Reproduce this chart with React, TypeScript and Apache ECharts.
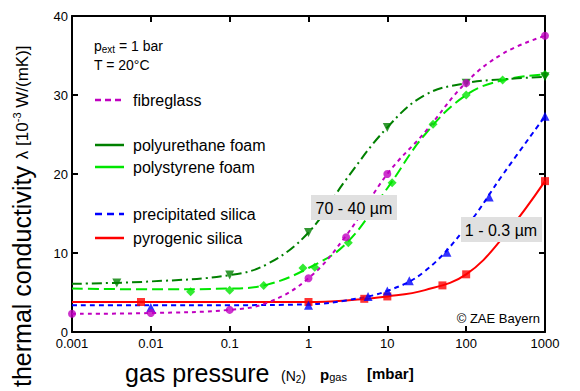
import React, { useEffect, useRef } from 'react';
import * as echarts from 'echarts';

const FONT = 'Liberation Sans, Arial, Helvetica, sans-serif';

const xTickValues = [0.001, 0.01, 0.1, 1, 10, 100, 1000];
const yTickValues = [0, 10, 20, 30, 40];

// fibreglass
const fibreglassCurve = [[0.001, 2.3], [0.01, 2.4], [0.1, 2.8], [0.3, 3.7], [1, 6.8], [3, 12.2], [10, 20], [30, 25.3], [100, 31.6], [300, 35.3], [1000, 37.5]];
const fibreglassPoints = [[0.001, 2.3], [0.01, 2.4], [0.1, 2.8], [1, 6.8], [3, 12], [10, 20], [100, 31.5], [1000, 37.5]];

// polyurethane foam
const puCurve = [[0.001, 6.1], [0.01, 6.4], [0.1, 7.2], [0.3, 8.6], [1, 12.6], [3, 19.3], [10, 25.9], [30, 30], [100, 31.5], [300, 32], [1000, 32.3]];
const puPoints = [[0.0037, 6.2], [0.1, 7.2], [1, 12.6], [10, 25.9], [100, 31.5], [1000, 32.3]];

// polystyrene foam
const psCurve = [[0.001, 5.5], [0.01, 5.4], [0.1, 5.5], [0.3, 6.0], [1, 8.1], [3, 11.2], [10, 18.2], [30, 25], [100, 30], [300, 31.9], [1000, 32.6]];
const psPoints = [[0.032, 5.1], [0.1, 5.3], [0.27, 5.9], [0.85, 8.1], [1.2, 8.2], [3.2, 11.3], [11.5, 18.9], [38, 26.3], [100, 30], [290, 31.9], [1000, 32.6]];

// precipitated silica
const precCurve = [[0.001, 3.4], [0.01, 3.4], [0.1, 3.4], [1, 3.5], [3, 4.0], [10, 5.2], [30, 7.7], [100, 13.3], [300, 20.1], [1000, 27.3]];
const precPoints = [[0.01, 3.1], [1, 3.4], [5.7, 4.5], [10, 5.2], [19, 6.5], [57, 10.1], [196, 17.1], [1000, 27.3]];

// pyrogenic silica
const pyroCurve = [[0.001, 3.8], [0.01, 3.8], [0.1, 3.8], [1, 3.8], [3, 4.0], [10, 4.5], [30, 5.3], [100, 7.3], [300, 12.1], [1000, 19.1]];
const pyroPoints = [[0.0075, 3.8], [1, 3.8], [5.1, 4.2], [10, 4.5], [50, 5.9], [100, 7.3], [1000, 19.1]];

const legendNames = ['fibreglass', 'polyurethane foam', 'polystyrene foam', 'precipitated silica', 'pyrogenic silica'];
const colors = ['#c000c0', '#008000', '#00e600', '#0000ff', '#ff0000'];

function fmtLog(v: number) {
  const e = Math.round(Math.log10(v));
  return e < 0 ? Math.pow(10, e).toFixed(-e) : String(Math.round(Math.pow(10, e)));
}

export default function App() {
  const ref = useRef<HTMLDivElement>(null);
  useEffect(() => {
    if (!ref.current) return;
    const chart = echarts.init(ref.current, undefined, { renderer: 'svg' });

    const lineSeries = (data: number[][], color: string, dash: any, z = 2) => ({
      type: 'line',
      data,
      smooth: 0.4,
      showSymbol: false,
      symbol: 'none',
      lineStyle: { color, width: 2, type: dash },
      z,
      silent: true,
    });
    const pointSeries = (data: number[][], color: string, symbol: string, size: number, rotate = 0) => ({
      type: 'scatter',
      data,
      symbol,
      symbolSize: size,
      symbolRotate: rotate,
      itemStyle: { color },
      z: 3,
      silent: true,
    });

    const legendY = [100, 145, 167, 214, 238];
    const legendDash: any[] = [[6, 4], null, null, [7, 5], null];
    const graphics: any[] = [];
    legendNames.forEach((n, i) => {
      graphics.push({
        type: 'line',
        shape: { x1: 95, y1: legendY[i], x2: 124, y2: legendY[i] },
        style: { stroke: colors[i], lineWidth: 2.5, lineDash: legendDash[i] || undefined },
        z: 100,
      });
      graphics.push({
        type: 'text',
        x: 133, y: legendY[i],
        style: { text: n, fill: '#000', font: `16px ${FONT}`, verticalAlign: 'middle', align: 'left' },
        z: 100,
      });
    });

    graphics.push(
      {
        type: 'text', x: 94, y: 46, z: 100,
        style: {
          text: '{a|p}{b|ext}{a| = 1 bar}', verticalAlign: 'middle', align: 'left', fill: '#000',
          rich: {
            a: { fontSize: 14, fontFamily: FONT, fill: '#000' },
            b: { fontSize: 10, fontFamily: FONT, fill: '#000', padding: [6, 0, 0, 0] },
          },
        },
      },
      {
        type: 'text', x: 94, y: 65, z: 100,
        style: { text: 'T = 20°C', font: `14px ${FONT}`, fill: '#000', verticalAlign: 'middle', align: 'left' },
      },
      { type: 'rect', shape: { x: 311, y: 195, width: 86, height: 25 }, style: { fill: '#e0e0e0' }, z: 100 },
      {
        type: 'text', x: 354, y: 208, z: 101,
        style: { text: '70 - 40 µm', font: `16px ${FONT}`, fill: '#000', align: 'center', verticalAlign: 'middle' },
      },
      { type: 'rect', shape: { x: 461, y: 217, width: 81, height: 25 }, style: { fill: '#e0e0e0' }, z: 100 },
      {
        type: 'text', x: 501, y: 230, z: 101,
        style: { text: '1 - 0.3 µm', font: `16px ${FONT}`, fill: '#000', align: 'center', verticalAlign: 'middle' },
      },
      {
        type: 'text', x: 540, y: 318, z: 100,
        style: { text: '© ZAE Bayern', font: `13px ${FONT}`, fill: '#000', align: 'right', verticalAlign: 'middle' },
      },
      // x-axis title
      {
        type: 'text', x: 125, y: 373, z: 100,
        style: { text: 'gas pressure', font: `25px ${FONT}`, fill: '#000', align: 'left', verticalAlign: 'middle' },
      },
      {
        type: 'text', x: 281, y: 376, z: 100,
        style: {
          text: '{c|(N}{d|2}{c|)}', align: 'left', verticalAlign: 'middle', fill: '#000',
          rich: {
            c: { fontSize: 14, fontFamily: FONT, fill: '#000' },
            d: { fontSize: 10, fontFamily: FONT, fill: '#000', padding: [6, 0, 0, 0] },
          },
        },
      },
      {
        type: 'text', x: 320, y: 374, z: 100,
        style: {
          text: '{p|p}{q|gas}', align: 'left', verticalAlign: 'middle', fill: '#000',
          rich: {
            p: { fontSize: 15, fontWeight: 'bold', fontFamily: FONT, fill: '#000' },
            q: { fontSize: 11, fontFamily: FONT, fill: '#000', padding: [6, 0, 0, 0] },
          },
        },
      },
      {
        type: 'text', x: 367, y: 373, z: 100,
        style: { text: '[mbar]', font: `bold 15px ${FONT}`, fill: '#000', align: 'left', verticalAlign: 'middle' },
      },
      // y-axis title
      {
        type: 'text', x: 22, y: 387, rotation: Math.PI / 2, z: 100,
        style: {
          text: '{a|thermal conductivity }{b|λ [10}{s|-3}{b| W/(mK)]}', align: 'left', verticalAlign: 'middle', fill: '#000',
          rich: {
            a: { fontSize: 25, fontFamily: FONT, fill: '#000' },
            b: { fontSize: 17, fontFamily: FONT, fill: '#000' },
            s: { fontSize: 11, fontFamily: FONT, fill: '#000', padding: [0, 0, 10, 0] },
          },
        },
      },
    );

    const axisLineStyle = { color: '#000', width: 2 };
    const xBase = {
      type: 'log', logBase: 10, min: 0.001, max: 1000, splitNumber: 6,
      axisLine: { show: true, lineStyle: axisLineStyle, onZero: false },
      axisTick: { show: true, inside: true, length: 6, lineStyle: axisLineStyle },
      minorTick: { show: false },
      splitLine: { show: false },
    };
    const yBase = {
      type: 'value', min: 0, max: 40, interval: 10,
      axisLine: { show: true, lineStyle: axisLineStyle, onZero: false },
      axisTick: { show: true, inside: true, length: 6, lineStyle: axisLineStyle },
      splitLine: { show: false },
    };

    chart.setOption({
      animation: false,
      backgroundColor: '#fff',
      grid: { left: 72, right: 35, top: 16, bottom: 59, containLabel: false },
      xAxis: [
        {
          ...xBase, position: 'bottom',
          axisLabel: {
            show: true, fontSize: 13, fontFamily: FONT, color: '#000', margin: 5,
            formatter: (v: number) => {
              const s = fmtLog(v);
              return xTickValues.map(fmtLog).includes(s) ? s : '';
            },
          },
        },
        { ...xBase, position: 'top', axisLabel: { show: false } },
      ],
      yAxis: [
        {
          ...yBase, position: 'left',
          axisLabel: {
            show: true, fontSize: 13, fontFamily: FONT, color: '#000', margin: 4,
            formatter: (v: number) => (yTickValues.includes(v) ? String(v) : ''),
          },
        },
        { ...yBase, position: 'right', axisLabel: { show: false } },
      ],
      series: [
        lineSeries(pyroCurve, colors[4], 'solid'),
        pointSeries(pyroPoints, colors[4], 'rect', 8),
        lineSeries(precCurve, colors[3], [5, 4]),
        pointSeries(precPoints, colors[3], 'triangle', 9),
        lineSeries(psCurve, colors[2], [11, 5]),
        pointSeries(psPoints, colors[2], 'diamond', 9),
        lineSeries(puCurve, colors[1], [10, 4, 2, 4]),
        pointSeries(puPoints, colors[1], 'triangle', 9, 180),
        lineSeries(fibreglassCurve, colors[0], [4, 4]),
        pointSeries(fibreglassPoints, colors[0], 'circle', 8),
      ],
      graphic: graphics,
    });
    return () => chart.dispose();
  }, []);
  return <div ref={ref} style={{ position: 'absolute', left: 0, top: 0, width: 580, height: 391, background: '#fff' }} />;
}
